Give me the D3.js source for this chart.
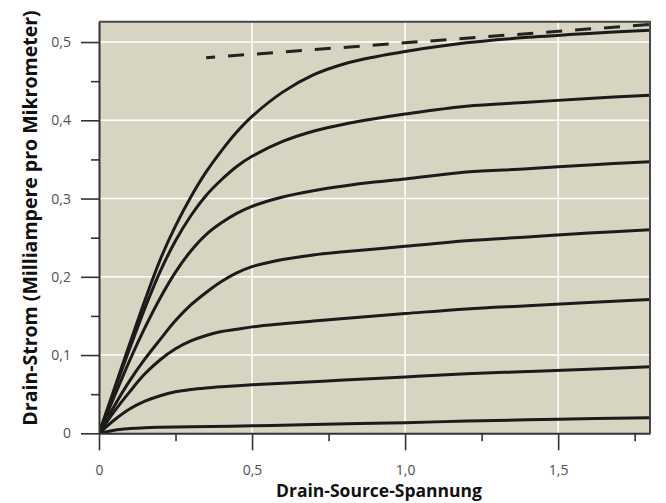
<!DOCTYPE html>
<html>
<head>
<meta charset="utf-8">
<script src="https://cdn.jsdelivr.net/npm/d3@7/dist/d3.min.js"></script>
<style>
  html, body { margin: 0; padding: 0; background: #ffffff; }
  svg { display: block; }
  .tick text { font-family: "Open Sans", sans-serif; font-size: 14px; fill: #505050; }
  .axis-title { font-family: "Open Sans", sans-serif; font-weight: 700; fill: #111; }
</style>
</head>
<body>
<svg id="chart" width="666" height="503"></svg>
<script>
// Drain current vs. drain-source voltage, one curve per gate voltage (top = highest).
const xMajorTicks = [0, 0.5, 1.0, 1.5];
const xMajorLabels = ["0", "0,5", "1,0", "1,5"];
const xMinorTicks = [0.25, 0.75, 1.25, 1.75];
const yMajorTicks = [0, 0.1, 0.2, 0.3, 0.4, 0.5];
const yMajorLabels = ["0", "0,1", "0,2", "0,3", "0,4", "0,5"];
const yMinorTicks = [0.05, 0.15, 0.25, 0.35, 0.45];

const curveGate1 = [[0,0],[0.05,0.057],[0.1,0.114],[0.15,0.17],[0.2,0.222],[0.25,0.265],[0.3,0.302],[0.35,0.334],[0.4,0.361],[0.45,0.385],[0.5,0.405],[0.6,0.436],[0.7,0.458],[0.8,0.472],[0.9,0.481],[1.0,0.488],[1.2,0.499],[1.4,0.506],[1.6,0.511],[1.8,0.515]];
const curveGate2 = [[0,0],[0.05,0.055],[0.1,0.108],[0.15,0.16],[0.2,0.207],[0.25,0.246],[0.3,0.278],[0.35,0.304],[0.4,0.324],[0.45,0.341],[0.5,0.354],[0.6,0.373],[0.7,0.386],[0.8,0.395],[0.9,0.402],[1.0,0.408],[1.2,0.418],[1.4,0.423],[1.6,0.428],[1.8,0.432]];
const curveGate3 = [[0,0],[0.05,0.047],[0.1,0.093],[0.15,0.135],[0.2,0.173],[0.25,0.206],[0.3,0.233],[0.35,0.254],[0.4,0.269],[0.45,0.281],[0.5,0.29],[0.6,0.302],[0.7,0.31],[0.8,0.316],[0.9,0.321],[1.0,0.325],[1.2,0.334],[1.4,0.338],[1.6,0.343],[1.8,0.347]];
const curveGate4 = [[0,0],[0.05,0.035],[0.1,0.067],[0.15,0.095],[0.2,0.12],[0.25,0.144],[0.3,0.164],[0.35,0.18],[0.4,0.194],[0.45,0.205],[0.5,0.213],[0.55,0.218],[0.6,0.222],[0.7,0.228],[0.8,0.232],[1.0,0.239],[1.2,0.246],[1.4,0.251],[1.6,0.256],[1.8,0.26]];
const curveGate5 = [[0,0],[0.05,0.028],[0.1,0.053],[0.15,0.076],[0.2,0.094],[0.25,0.108],[0.3,0.118],[0.35,0.125],[0.4,0.13],[0.45,0.133],[0.5,0.136],[0.6,0.14],[0.7,0.1435],[0.8,0.1468],[1.0,0.153],[1.2,0.159],[1.4,0.163],[1.6,0.167],[1.8,0.171]];
const curveGate6 = [[0,0],[0.05,0.017],[0.1,0.031],[0.15,0.041],[0.2,0.048],[0.25,0.053],[0.3,0.056],[0.35,0.058],[0.4,0.0595],[0.5,0.062],[0.6,0.064],[0.8,0.068],[1.0,0.072],[1.2,0.076],[1.4,0.079],[1.6,0.082],[1.8,0.085]];
const curveGate7 = [[0,0],[0.05,0.004],[0.1,0.006],[0.15,0.0072],[0.2,0.0078],[0.3,0.0085],[0.5,0.0095],[0.7,0.0112],[1.0,0.0136],[1.2,0.0156],[1.5,0.018],[1.8,0.02]];
const idealLimit = [[0.35,0.48],[1.8,0.5225]];

const curves = [curveGate1, curveGate2, curveGate3, curveGate4, curveGate5, curveGate6, curveGate7];

const plot = { left: 99, right: 650, top: 21.7, bottom: 433.3 };
const svg = d3.select("#chart");

const x = d3.scaleLinear().domain([0, 1.8]).range([plot.left, plot.right]);
const y = d3.scaleLinear().domain([0, 0.526]).range([plot.bottom, plot.top]);

// Panel background
svg.append("rect")
  .attr("x", plot.left).attr("y", plot.top)
  .attr("width", plot.right - plot.left).attr("height", plot.bottom - plot.top)
  .attr("fill", "#d7d4c1");

// White grid
const grid = svg.append("g").attr("stroke", "#ffffff").attr("stroke-width", 1.5);
grid.selectAll(".gx").data(xMajorTicks.filter(d => d > 0)).join("line")
  .attr("x1", d => x(d)).attr("x2", d => x(d))
  .attr("y1", plot.top).attr("y2", plot.bottom);
grid.selectAll(".gy").data(yMajorTicks.filter(d => d > 0)).join("line")
  .attr("y1", d => y(d)).attr("y2", d => y(d))
  .attr("x1", plot.left).attr("x2", plot.right);

// Curves
const line = d3.line().x(d => x(d[0])).y(d => y(d[1])).curve(d3.curveCatmullRom.alpha(0.5));
svg.append("clipPath").attr("id", "plotClip").append("rect")
  .attr("x", plot.left).attr("y", plot.top)
  .attr("width", plot.right - plot.left).attr("height", plot.bottom - plot.top);

const curveLayer = svg.append("g").attr("clip-path", "url(#plotClip)");
curveLayer.selectAll("path.iv").data(curves).join("path")
  .attr("class", "iv")
  .attr("d", line)
  .attr("fill", "none")
  .attr("stroke", "#1b1b1b")
  .attr("stroke-width", 3)
  .attr("stroke-linejoin", "round")
  .attr("stroke-linecap", "round");

curveLayer.append("path")
  .attr("d", d3.line().x(d => x(d[0])).y(d => y(d[1]))(idealLimit))
  .attr("fill", "none")
  .attr("stroke", "#222")
  .attr("stroke-width", 3)
  .attr("stroke-dasharray", "16 13")
  .attr("stroke-dashoffset", 7);

// Frame: top and right edges
svg.append("path")
  .attr("d", `M${plot.left},${plot.top}H${plot.right}V${plot.bottom}`)
  .attr("fill", "none").attr("stroke", "#474747").attr("stroke-width", 2);

// Axes
function styleAxis(g) {
  g.select(".domain").attr("stroke", "#333").attr("stroke-width", 2);
  g.selectAll(".tick line").attr("stroke", "#333").attr("stroke-width", 1.6);
}

const xAxis = svg.append("g").attr("transform", `translate(0,${plot.bottom})`)
  .call(d3.axisBottom(x).tickValues(xMajorTicks).tickSize(17).tickSizeOuter(0)
    .tickPadding(15).tickFormat((d, i) => xMajorLabels[i]));
styleAxis(xAxis);
xAxis.selectAll(".tick text").attr("dy", "0.71em");

const xMinor = svg.append("g").attr("transform", `translate(0,${plot.bottom})`)
  .call(d3.axisBottom(x).tickValues(xMinorTicks).tickSize(8).tickSizeOuter(0).tickFormat(""));
styleAxis(xMinor);
xMinor.select(".domain").remove();

const yAxis = svg.append("g").attr("transform", `translate(${plot.left},0)`)
  .call(d3.axisLeft(y).tickValues(yMajorTicks).tickSize(18).tickSizeOuter(0)
    .tickPadding(10).tickFormat((d, i) => yMajorLabels[i]));
styleAxis(yAxis);

const yMinor = svg.append("g").attr("transform", `translate(${plot.left},0)`)
  .call(d3.axisLeft(y).tickValues(yMinorTicks).tickSize(8).tickSizeOuter(0).tickFormat(""));
styleAxis(yMinor);
yMinor.select(".domain").remove();

// Axis titles
svg.append("text").attr("class", "axis-title")
  .attr("x", 379).attr("y", 497).attr("text-anchor", "middle")
  .style("font-size", "17.5px")
  .text("Drain-Source-Spannung");

svg.append("text").attr("class", "axis-title")
  .attr("transform", "translate(37,218) rotate(-90)")
  .attr("text-anchor", "middle")
  .style("font-size", "19.5px")
  .text("Drain-Strom (Milliampere pro Mikrometer)");
</script>
</body>
</html>
